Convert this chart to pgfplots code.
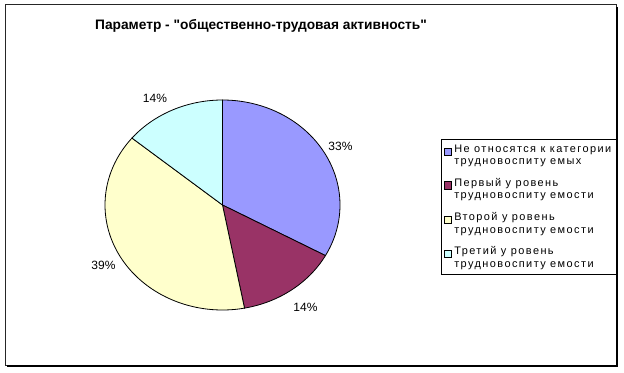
\documentclass[border=0pt]{standalone}
\usepackage{fontspec}
\setmainfont{Liberation Sans}[Ligatures=TeXOff]
\usepackage{pgfplots}
\pgfplotsset{compat=1.18}
\definecolor{cA}{HTML}{9999FF}
\definecolor{cB}{HTML}{993366}
\definecolor{cC}{HTML}{FFFFCC}
\definecolor{cD}{HTML}{CCFFFF}
% percentages
\def\vA{33}\def\vB{14}\def\vC{39}\def\vD{14}
\pgfmathsetmacro\aA{90}
\pgfmathsetmacro\aB{\aA-3.6*\vA}
\pgfmathsetmacro\aC{\aB-3.6*\vB}
\pgfmathsetmacro\aD{\aC-3.6*\vC}
\pgfmathsetmacro\aE{\aD-3.6*\vD}
% pie geometry (pixel units)
\def\cx{222.5}\def\cy{167}\def\rx{117.5}\def\ry{105}
\begin{document}
\begin{tikzpicture}
\begin{axis}[
  width=468pt, height=279pt, scale only axis,
  xmin=0, xmax=624, ymin=0, ymax=372,
  hide axis, clip=false,
  legend cell align=left,
  legend style={
    at={(0.7067,0.6263)}, anchor=north west,
    draw=black, line width=0.6pt,
    font=\fontsize{8.2}{9.4}\selectfont\addfontfeature{LetterSpace=13},
    cells={align=left},
    row sep=4.6pt, inner sep=2pt,
  },
  legend image code/.code={\draw[#1, line width=0.4pt] (0pt,0.6pt) rectangle (5.3pt,5.9pt);},
]
\addplot[fill=cA, draw=black, line width=0.6pt, domain=\aA:\aB, samples=80, variable=\t]
  ({\cx+\rx*cos(\t)},{\cy+\ry*sin(\t)}) -- (axis cs:\cx,\cy) -- cycle;
\addplot[fill=cB, draw=black, line width=0.6pt, domain=\aB:\aC, samples=40, variable=\t]
  ({\cx+\rx*cos(\t)},{\cy+\ry*sin(\t)}) -- (axis cs:\cx,\cy) -- cycle;
\addplot[fill=cC, draw=black, line width=0.6pt, domain=\aC:\aD, samples=90, variable=\t]
  ({\cx+\rx*cos(\t)},{\cy+\ry*sin(\t)}) -- (axis cs:\cx,\cy) -- cycle;
\addplot[fill=cD, draw=black, line width=0.6pt, domain=\aD:\aE, samples=40, variable=\t]
  ({\cx+\rx*cos(\t)},{\cy+\ry*sin(\t)}) -- (axis cs:\cx,\cy) -- cycle;
\legend{{Не относятся к категории\\трудновоспиту емых},
        {Первый у ровень\\трудновоспиту емости},
        {Второй у ровень\\трудновоспиту емости},
        {Третий у ровень\\трудновоспиту емости}}
% data labels
\node[font=\fontsize{9}{10}\selectfont] at (axis cs:340.5,226) {\vA\%};
\node[font=\fontsize{9}{10}\selectfont] at (axis cs:305.5,65) {\vB\%};
\node[font=\fontsize{9}{10}\selectfont] at (axis cs:103.5,107) {\vC\%};
\node[font=\fontsize{9}{10}\selectfont] at (axis cs:155,274) {\vD\%};
% title
\node[font=\fontsize{10.3}{12}\bfseries] at (axis cs:261,346) {Параметр - "общественно-трудовая активность"};
% chart frame with shadow
\draw[black!85, line width=0.75pt] (axis cs:5,7) rectangle (axis cs:616,367);
\draw[black, line width=1.5pt] (axis cs:7,5.8) -- (axis cs:617.2,5.8) -- (axis cs:617.2,365);
\end{axis}
\pgfresetboundingbox
\useasboundingbox (0,0) rectangle (468pt,279pt);
\end{tikzpicture}
\end{document}
